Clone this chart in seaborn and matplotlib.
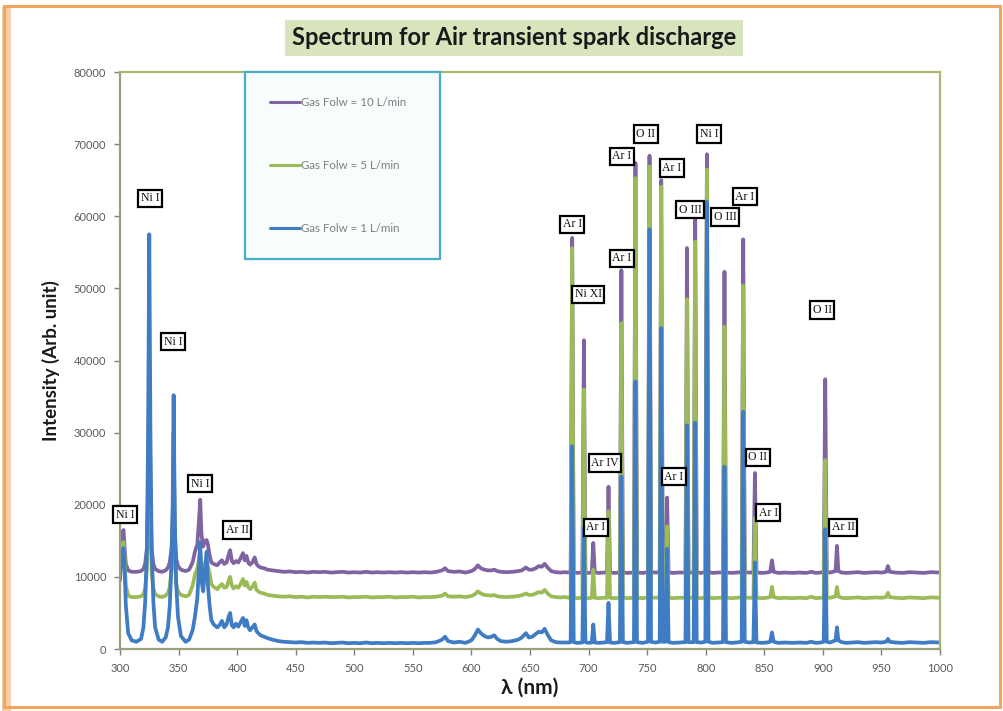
import numpy as np
import pandas as pd
import matplotlib
matplotlib.use("Agg")
import matplotlib.pyplot as plt
from matplotlib.patches import Rectangle
import seaborn as sns

# ---------------------------------------------------------------------------
# Emission spectra (wavelength in nm, intensity in arbitrary units)
# ---------------------------------------------------------------------------
wavelength = [
    300, 301, 302, 303, 304, 305, 307, 310, 314,
    318, 320, 321.5, 323, 324, 325, 326, 327, 328.5, 330, 333, 336, 339, 341, 342.5, 344,
    345, 345.8, 346.8, 348, 349.5, 352,
    356, 359, 362, 364, 366,
    367.5, 368.5, 369.5, 371, 372.5, 374, 375, 376.5, 378, 380, 383, 385, 387, 389, 391,
    393, 394, 395.5, 397, 399, 401, 403, 405, 406.5, 408, 409.5, 411, 413, 415, 416.5,
    418, 420, 423, 426, 430,
    435, 440, 445, 450, 455, 460, 465, 470, 475, 480, 485, 490, 495, 500, 505, 510, 515,
    520, 525, 530, 535, 540, 545, 550, 555, 560, 565, 570, 575, 577.5, 580, 585, 590, 595,
    600, 603, 605.5, 608, 611, 614, 617, 619.5, 622, 625, 630, 635, 640, 643, 646.5, 649,
    652, 655, 657.5, 660, 662.5, 665, 668, 672, 676, 680,
    683, 684.7, 686, 687.3, 690, 694.7, 696, 697.3, 700, 702.7, 704, 705.3, 709, 713,
    715.7, 717, 718.3, 722, 726.7, 728, 729.3, 733, 738.7, 740, 741.3, 746, 750.7, 752,
    753.3, 757, 760.7, 762, 763.3, 765.7, 767, 768.3, 772, 777, 782.7, 784, 785.3, 789.7,
    791, 792.3, 796, 799.7, 801, 802.3, 806, 810, 814.7, 816, 817.3, 822, 826, 830.7, 832,
    833.3, 837, 840.7, 842, 843.3, 848, 852, 855, 856.5, 858, 862, 868, 874, 880, 886, 890,
    894, 898, 900.7, 902, 903.3, 906, 910.8, 912, 913.2, 916, 920, 925, 930, 935, 940, 945,
    950, 954, 955.5, 957, 962, 968, 974, 980, 986, 992, 1000,
]

flow_10 = [
    12500, 14500, 16000, 16500, 14000, 11800, 10900, 10700, 10700,
    10800, 11100, 11800, 14000, 22000, 40000, 22000, 14000, 11800, 11100, 10800, 10700, 10900, 11300, 12000, 14000,
    18000, 30000, 16000, 12500, 11500, 11000,
    10800, 11000, 12000, 13500, 14500,
    18000, 20700, 16000, 14200, 15000, 15100, 14500, 13000, 12000, 11800, 11600, 12000, 12300, 11800, 12000,
    13200, 13700, 12200, 11900, 12200, 12000, 12600, 13300, 12300, 12900, 12000, 11700, 12000, 12700, 11800,
    11500, 11300, 11200, 11000, 10900,
    10800, 10700, 10750, 10650, 10700, 10600, 10700, 10650, 10700, 10600, 10650, 10700, 10600, 10650, 10600, 10700, 10600,
    10650, 10600, 10650, 10600, 10650, 10600, 10650, 10600, 10650, 10600, 10700, 10900, 11200, 10800, 10700, 10750, 10600,
    10800, 11100, 11600, 11200, 11000, 10900, 10900, 11000, 10800, 10700, 10650, 10700, 10800, 10900, 11300, 11000,
    11000, 11200, 11500, 11400, 11800, 11300, 10800, 10650, 10600, 10650,
    10600, 10600, 57000, 10600, 10550, 10600, 42800, 10600, 10550, 10600, 14700, 10600, 10550, 10600,
    10600, 22500, 10600, 10550, 10600, 52500, 10600, 10550, 10600, 67400, 10600, 10550, 10650, 68400,
    10650, 10600, 10650, 65000, 10650, 10650, 21000, 10600, 10550, 10600, 10600, 55600, 10600, 10600,
    60300, 10600, 10550, 10650, 68600, 10650, 10550, 10600, 10600, 52300, 10600, 10550, 10600, 10650, 56800,
    10650, 10600, 10600, 24400, 10600, 10550, 10600, 10700, 12300, 10700, 10550, 10600, 10550, 10600, 10550, 10700,
    10550, 10600, 10650, 37400, 10650, 10600, 10800, 14300, 10800, 10600, 10550, 10600, 10650, 10550, 10600, 10650,
    10600, 10700, 11500, 10700, 10600, 10550, 10650, 10600, 10550, 10650, 10600,
]

flow_5 = [
    11000, 13000, 14500, 14800, 12500, 8800, 7400, 7200, 7200,
    7300, 7600, 8400, 11000, 19000, 35000, 19000, 11000, 8400, 7600, 7300, 7200, 7400, 7800, 8600, 11000,
    15000, 26000, 13000, 9000, 8000, 7500,
    7300, 7500, 8800, 10300, 11200,
    12500, 13500, 12000, 11000, 11800, 12200, 11500, 10500, 9000, 8600, 8300, 8700, 9000, 8500, 8600,
    9600, 10000, 8800, 8400, 8700, 8500, 9000, 9700, 8800, 9300, 8600, 8300, 8600, 9200, 8200,
    8000, 7800, 7700, 7500, 7400,
    7300, 7250, 7300, 7200, 7250, 7150, 7250, 7200, 7250, 7200, 7200, 7250, 7150, 7200, 7200, 7250, 7150,
    7200, 7200, 7250, 7150, 7200, 7200, 7250, 7150, 7200, 7200, 7250, 7400, 7700, 7300, 7250, 7300, 7200,
    7350, 7600, 8000, 7700, 7500, 7450, 7400, 7500, 7300, 7250, 7200, 7250, 7350, 7450, 7700, 7500,
    7500, 7700, 7900, 7800, 8200, 7700, 7300, 7200, 7150, 7200,
    7100, 7100, 55600, 7100, 7050, 7100, 36000, 7100, 7050, 7100, 11000, 7100, 7050, 7100,
    7100, 19100, 7100, 7050, 7100, 45200, 7100, 7050, 7100, 65300, 7100, 7050, 7150, 66900,
    7150, 7100, 7150, 64100, 7150, 7150, 17000, 7100, 7050, 7100, 7100, 48500, 7100, 7100,
    56500, 7100, 7050, 7150, 66500, 7150, 7050, 7100, 7100, 44700, 7100, 7050, 7100, 7150, 50400,
    7150, 7100, 7100, 18200, 7100, 7050, 7100, 7200, 8600, 7200, 7050, 7100, 7050, 7100, 7050, 7250,
    7050, 7100, 7150, 26200, 7150, 7100, 7300, 8600, 7300, 7100, 7050, 7100, 7150, 7050, 7100, 7150,
    7100, 7200, 7800, 7200, 7100, 7050, 7150, 7100, 7050, 7150, 7100,
]

flow_1 = [
    9500, 12000, 13500, 14000, 11000, 6000, 2200, 1200, 1000,
    1400, 3000, 6500, 14000, 30000, 57500, 30000, 14000, 6500, 3000, 1300, 1000, 1600, 3000, 6000, 12000,
    20000, 35200, 18000, 9000, 4500, 1800,
    1000, 1300, 2600, 4500, 7000,
    11500, 14800, 9500, 8000, 11000, 13500, 9000, 6000, 4000, 3400, 3000, 3300, 3900, 3000, 3400,
    4600, 5000, 3300, 3000, 3500, 3100, 3700, 4300, 3200, 4000, 3000, 2600, 3000, 3400, 2500,
    2200, 1900, 1700, 1500, 1300,
    1100, 1000, 950, 900, 950, 850, 900, 850, 900, 800, 850, 900, 800, 850, 800, 900, 800,
    850, 800, 850, 800, 850, 800, 850, 800, 850, 850, 950, 1300, 1700, 1100, 900, 1000, 850,
    1200, 1900, 2700, 2200, 1800, 1600, 1700, 1900, 1400, 1100, 1000, 1100, 1300, 1600, 2200, 1600,
    1700, 2100, 2400, 2300, 2800, 2000, 1200, 950, 900, 900,
    900, 950, 28100, 950, 850, 900, 16800, 950, 850, 900, 3400, 900, 850, 900,
    950, 6400, 900, 850, 950, 23900, 950, 850, 950, 37100, 950, 850, 1000, 58200,
    1000, 900, 1000, 44500, 1000, 1000, 13900, 950, 850, 900, 950, 31000, 950, 950,
    31400, 950, 900, 1000, 62000, 1000, 850, 900, 950, 25300, 950, 850, 900, 1000, 32900,
    1000, 900, 950, 12000, 900, 850, 900, 1000, 2300, 1000, 850, 900, 850, 900, 850, 1000,
    850, 900, 1000, 16600, 1000, 900, 1200, 3000, 1200, 950, 850, 900, 950, 850, 900, 950,
    900, 1000, 1400, 1000, 900, 850, 950, 900, 850, 950, 900,
]

series_names = ["Gas Folw = 10 L/min", "Gas Folw = 5 L/min", "Gas Folw = 1 L/min"]
series_colors = ["#8064A2", "#9BBB59", "#3F7CC4"]

x_ticks = list(range(300, 1001, 50))
y_ticks = list(range(0, 80001, 10000))

# Line identifications: (label, wavelength, intensity of the label box centre)
line_ids = [
    ("Ni I", 304.3, 18600), ("Ni I", 325.6, 62500), ("Ni I", 345.2, 42600),
    ("Ni I", 368.3, 22900), ("Ar II", 399.9, 16500),
    ("Ar I", 686.0, 58900), ("Ni XI", 699.5, 49200), ("Ar IV", 714.0, 25800),
    ("Ar I", 706.3, 16900), ("Ar I", 728.5, 54200), ("Ar I", 728.5, 68300),
    ("O II", 749.0, 71400), ("Ar I", 771.2, 66700), ("O III", 786.6, 60900),
    ("Ni I", 802.8, 71400), ("O III", 816.5, 59900), ("Ar I", 833.5, 62700),
    ("O II", 844.6, 26600), ("Ar I", 772.9, 23900), ("Ar I", 853.2, 18900),
    ("O II", 899.3, 47000), ("Ar II", 917.2, 16900),
]

frames = []
for name, values in zip(series_names, [flow_10, flow_5, flow_1]):
    frames.append(pd.DataFrame({"wavelength": wavelength, "intensity": values, "series": name}))
df = pd.concat(frames, ignore_index=True)

# ---------------------------------------------------------------------------
sns.set_theme(style="white")
plt.rcParams["font.family"] = ["Lato", "DejaVu Sans"]

fig = plt.figure(figsize=(10.04, 7.11), dpi=100)
fig.patch.set_facecolor("white")
ax = fig.add_axes([0.1195, 0.0872, 0.8168, 0.8115])

sns.lineplot(
    data=df, x="wavelength", y="intensity", hue="series",
    hue_order=series_names, palette=series_colors,
    sort=False, estimator=None, linewidth=2.7, ax=ax,
)

ax.set_xlim(300, 1000)
ax.set_ylim(0, 80000)
ax.set_xticks(x_ticks)
ax.set_yticks(y_ticks)
ax.tick_params(axis="both", which="major", labelsize=8, colors="#7f7f7f",
               labelcolor="#595959", length=4, width=1, direction="out",
               bottom=True, left=True, pad=6)
for s in ax.spines.values():
    s.set_color("#A9B86C")
    s.set_linewidth(1.6)
ax.spines["left"].set_color("#9AA07A")
ax.spines["bottom"].set_color("#9AA07A")

ax.set_xlabel("λ (nm)", fontsize=15, fontweight="bold", color="#1a1a1a", labelpad=3)
ax.set_ylabel("Intensity (Arb. unit)", fontsize=13.5, fontweight="bold", color="#1a1a1a", labelpad=10)

# Legend
handles, labels = ax.get_legend_handles_labels()
leg = ax.legend(
    handles, labels, loc="upper left", bbox_to_anchor=(0.152, 0.669, 0.238, 0.331),
    mode="expand", borderaxespad=0, fontsize=8.3, labelspacing=4.5, borderpad=2.2,
    handlelength=2.6, handletextpad=0.1, frameon=True, fancybox=False,
)
leg.get_frame().set_edgecolor("#4BACC6")
leg.get_frame().set_linewidth(1.6)
leg.get_frame().set_facecolor("#F7FCFC")
leg.get_frame().set_alpha(1)
for t in leg.get_texts():
    t.set_color("#7f7f7f")
for h in leg.get_lines():
    h.set_linewidth(2.2)

# Line identification boxes
for text, lam, yv in line_ids:
    ax.text(lam, yv, text, ha="center", va="center", fontsize=8.5,
            family=["Liberation Serif", "DejaVu Serif"], color="#111111", zorder=5,
            bbox=dict(boxstyle="square,pad=0.22", facecolor="white", edgecolor="black", linewidth=1.6))

# Title on a light green band
fig.text(0.512, 0.947, "Spectrum for Air transient spark discharge", ha="center", va="center",
         fontsize=17, fontweight="bold", color="#1a1a1a",
         bbox=dict(boxstyle="square,pad=0.28", facecolor="#D8E4BC", edgecolor="none"))

# Slide-style orange frame
fig.patches.append(Rectangle((0.004, 0.006), 0.992, 0.985, transform=fig.transFigure,
                             fill=False, edgecolor="#F2A55E", linewidth=2.2, zorder=10))
fig.patches.append(Rectangle((0.002, 0.0), 0.009, 0.99, transform=fig.transFigure,
                             facecolor="#F8CFA6", edgecolor="none", zorder=9))

fig.savefig("out.png", dpi=100)
